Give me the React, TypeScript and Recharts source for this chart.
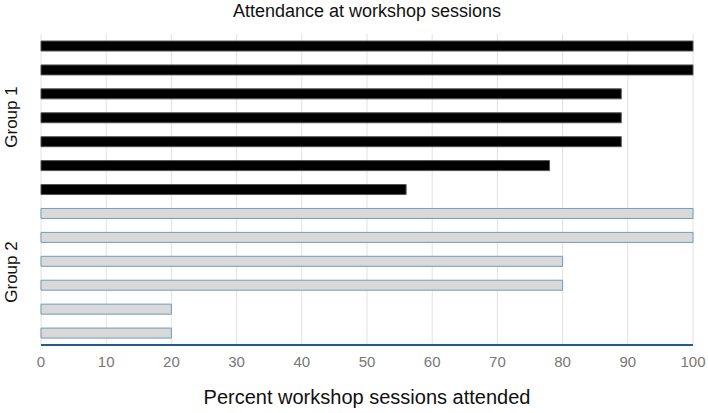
import React from 'react';
import { BarChart, Bar, XAxis, YAxis, CartesianGrid, Cell } from 'recharts';

const participants = ['P1', 'P2', 'P3', 'P4', 'P5', 'P6', 'P7', 'P8', 'P9', 'P10', 'P11', 'P12', 'P13'];
const groups = ['Group 1', 'Group 1', 'Group 1', 'Group 1', 'Group 1', 'Group 1', 'Group 1', 'Group 2', 'Group 2', 'Group 2', 'Group 2', 'Group 2', 'Group 2'];
const attendance = [100, 100, 89, 89, 89, 78, 56, 100, 100, 80, 80, 20, 20];
const xTicks = [0, 10, 20, 30, 40, 50, 60, 70, 80, 90, 100];

const data = participants.map((p, i) => ({ name: p, group: groups[i], value: attendance[i] }));

const W = 708;
const H = 413;

export default function App() {
  return (
    <div style={{ position: 'absolute', left: 0, top: 0, width: W, height: H, fontFamily: '"Liberation Sans", Arial, sans-serif', background: '#fff' }}>
      <div style={{ position: 'absolute', left: 41, width: 652, top: 1, textAlign: 'center', fontSize: 18, color: '#111' }}>
        Attendance at workshop sessions
      </div>
      <div style={{ position: 'absolute', left: 12, top: 117, transform: 'translate(-50%, -50%) rotate(-90deg)', fontSize: 17, color: '#111', whiteSpace: 'nowrap' }}>
        Group 1
      </div>
      <div style={{ position: 'absolute', left: 12, top: 272, transform: 'translate(-50%, -50%) rotate(-90deg)', fontSize: 17, color: '#111', whiteSpace: 'nowrap' }}>
        Group 2
      </div>
      <div style={{ position: 'absolute', left: 41, width: 652, top: 386, textAlign: 'center', fontSize: 20, color: '#111' }}>
        Percent workshop sessions attended
      </div>
      <BarChart
        width={W}
        height={H}
        data={data}
        layout="vertical"
        margin={{ top: 34, right: 15, left: 41, bottom: 38 }}
        barSize={10}
      >
        <CartesianGrid horizontal={false} stroke="#e2e2e2" />
        <XAxis
          type="number"
          domain={[0, 100]}
          ticks={xTicks}
          height={30}
          tickLine={false}
          axisLine={{ stroke: '#1f5f85', strokeWidth: 2 }}
          tick={{ fill: '#777', fontSize: 15 }}
          tickMargin={5}
          interval={0}
        />
        <YAxis type="category" dataKey="name" hide width={0} />
        <Bar dataKey="value" isAnimationActive={false}>
          {data.map((d, i) => (
            <Cell
              key={i}
              fill={d.group === 'Group 1' ? '#000000' : '#d9d9d9'}
              stroke={d.group === 'Group 1' ? '#555' : '#6f9dbd'}
              strokeWidth={1}
            />
          ))}
        </Bar>
      </BarChart>
    </div>
  );
}
